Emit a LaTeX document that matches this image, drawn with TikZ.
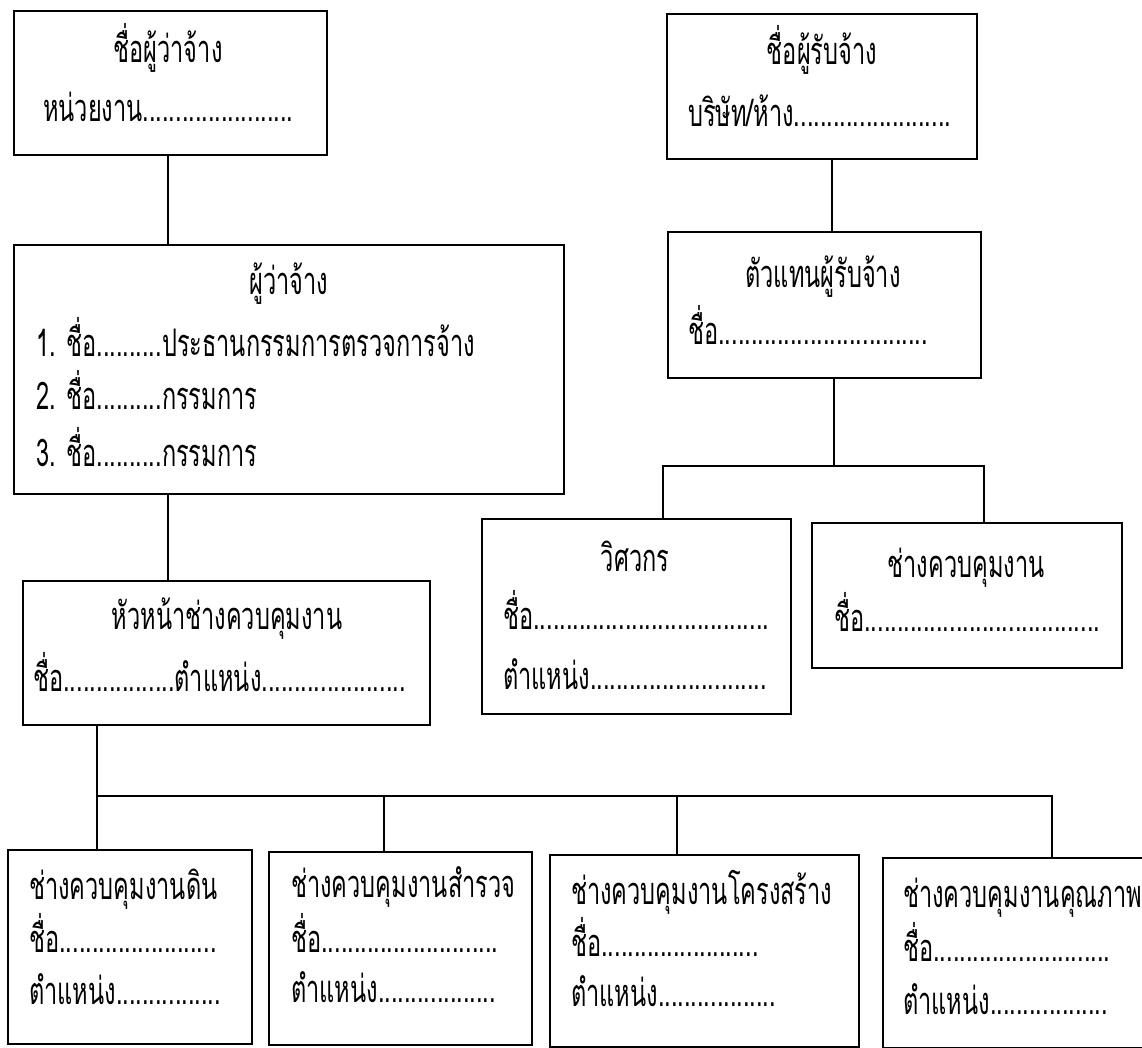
\documentclass[tikz,border=0pt]{standalone}
\usepackage{fontspec}
\newfontfamily\thai[Script=Thai,FakeStretch=0.62]{Loma}
\begin{document}
\begin{tikzpicture}[x=1pt,y=-1pt,
  box/.style={draw=black,line width=1.3pt,rectangle,inner sep=0pt},
  conn/.style={draw=black,line width=1.3pt},
  ttl/.style={inner sep=0pt,anchor=base,font=\thai\fontsize{38}{42}\selectfont},
  txt/.style={inner sep=0pt,anchor=base west,font=\thai\fontsize{38}{42}\selectfont}]
\useasboundingbox (0,0) rectangle (1142,1047);
\fill[white] (0,0) rectangle (1142,1047);
% boxes
\node[box,minimum width=313pt,minimum height=144pt] (A) at (170.5,83) {};
\node[box,minimum width=310pt,minimum height=145pt] (B) at (822,86.5) {};
\node[box,minimum width=313pt,minimum height=146pt] (C) at (824.5,305) {};
\node[box,minimum width=550pt,minimum height=249pt] (D) at (289,369.5) {};
\node[box,minimum width=407pt,minimum height=144pt] (E) at (226.5,653) {};
\node[box,minimum width=309pt,minimum height=195pt] (G1) at (636.5,616.5) {};
\node[box,minimum width=310pt,minimum height=145pt] (G2) at (967,595.5) {};
\node[box,minimum width=244pt,minimum height=194pt] (F1) at (130,947) {};
\node[box,minimum width=263pt,minimum height=193pt] (F2) at (400.5,948.5) {};
\node[box,minimum width=309pt,minimum height=192pt] (F3) at (704.5,951) {};
\node[box,minimum width=262pt,minimum height=190pt] (F4) at (1014,953) {};
% texts
\node[ttl] (At) at (168,62) {ชื่อผู้ว่าจ้าง};
\node[txt] (Al) at (43,121) {หน่วยงาน.......................};
\node[ttl] (Bt) at (822,64) {ชื่อผู้รับจ้าง};
\node[txt] (Bl) at (688,126) {บริษัท/ห้าง........................};
\node[ttl] (Ct) at (823,287) {ตัวแทนผู้รับจ้าง};
\node[txt] (Cl) at (688,344) {ชื่อ................................};
\node[ttl] (Dt) at (289,294) {ผู้ว่าจ้าง};
\node[txt] (D1) at (36,356) {1. ชื่อ..........ประธานกรรมการตรวจการจ้าง};
\node[txt] (D2) at (36,409) {2. ชื่อ..........กรรมการ};
\node[txt] (D3) at (36,466) {3. ชื่อ..........กรรมการ};
\node[ttl] (Et) at (227,629) {หัวหน้าช่างควบคุมงาน};
\node[txt] (El) at (33,691) {ชื่อ.................ตำแหน่ง......................};
\node[ttl] (G1t) at (635,571) {วิศวกร};
\node[txt] (G1a) at (503,629) {ชื่อ....................................};
\node[txt] (G1b) at (503,689) {ตำแหน่ง...........................};
\node[ttl] (G2t) at (966,577) {ช่างควบคุมงาน};
\node[txt] (G2a) at (834,631) {ชื่อ....................................};
\node[txt] (F1t) at (29,899) {ช่างควบคุมงานดิน};
\node[txt] (F1a) at (29,952) {ชื่อ........................};
\node[txt] (F1b) at (29,1004) {ตำแหน่ง................};
\node[txt] (F2t) at (291,897) {ช่างควบคุมงานสำรวจ};
\node[txt] (F2a) at (291,952) {ชื่อ...........................};
\node[txt] (F2b) at (291,1002) {ตำแหน่ง..................};
\node[txt] (F3t) at (571,904) {ช่างควบคุมงานโครงสร้าง};
\node[txt] (F3a) at (571,956) {ชื่อ........................};
\node[txt] (F3b) at (571,1006) {ตำแหน่ง..................};
\node[txt] (F4t) at (903,907) {ช่างควบคุมงานคุณภาพ};
\node[txt] (F4a) at (903,961) {ชื่อ...........................};
\node[txt] (F4b) at (903,1014) {ตำแหน่ง..................};
% connector coordinates
\coordinate (ad) at (168,0);
\coordinate (bc) at (832,0);
\coordinate (cb) at (834,466);
\coordinate (g1) at (663,466);
\coordinate (g2) at (984,466);
\coordinate (eb) at (97,796);
\coordinate (f2) at (384,796);
\coordinate (f3) at (677,796);
\coordinate (f4) at (1052,796);
% connectors
\draw[conn] (A.south -| ad) -- (D.north -| ad);
\draw[conn] (D.south -| ad) -- (E.north -| ad);
\draw[conn] (B.south -| bc) -- (C.north -| bc);
\draw[conn] (C.south -| cb) -- (cb);
\draw[conn] (G1.north -| g1) -- (g1) -- (g2) -- (G2.north -| g2);
\draw[conn] (E.south -| eb) -- (eb) -- (F1.north -| eb);
\draw[conn] (eb) -- (f4) -- (F4.north -| f4);
\draw[conn] (f2) -- (F2.north -| f2);
\draw[conn] (f3) -- (F3.north -| f3);
\end{tikzpicture}
\end{document}
